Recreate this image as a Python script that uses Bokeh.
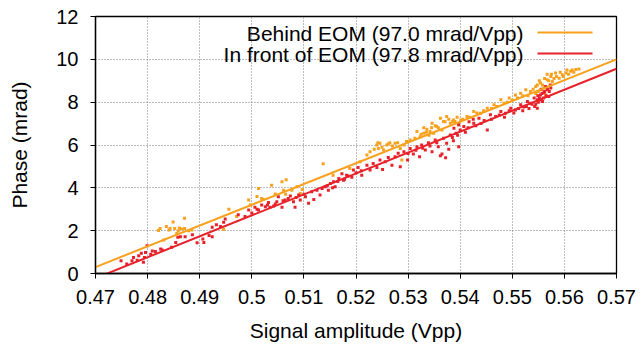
from bokeh.plotting import figure
from bokeh.models import Label, Arrow, FixedTicker, Range1d
from bokeh.embed import file_html
from bokeh.resources import INLINE
import numpy as np

# ---- data ----
behind_x = [0.4821, 0.4824, 0.4831, 0.4836, 0.4841, 0.4843, 0.4849, 0.4852, 0.4856, 0.4859,
            0.4861, 0.4865, 0.4871, 0.4871, 0.4879, 0.4885, 0.4946, 0.4956, 0.4971, 0.4994,
            0.4997, 0.5010, 0.5013, 0.5019, 0.5022, 0.5038, 0.5045, 0.5058, 0.5066, 0.5061,
            0.5065, 0.5077, 0.5087, 0.5097, 0.5137, 0.5093, 0.5156, 0.5188, 0.5208, 0.5221,
            0.5227, 0.5240, 0.5243, 0.5246, 0.5253, 0.5259, 0.5265, 0.5275, 0.5285, 0.5288,
            0.5297, 0.5304, 0.5313, 0.5317, 0.5323, 0.5330, 0.5336, 0.5342, 0.5346, 0.5349,
            0.5355, 0.5362, 0.5365, 0.5371, 0.5374, 0.5381, 0.5387, 0.5394, 0.5397, 0.5385,
            0.5401, 0.5413, 0.5426, 0.5439, 0.5452, 0.5465, 0.5478, 0.5484, 0.5494, 0.5506,
            0.5516, 0.5526, 0.5535, 0.5545, 0.5554, 0.5561, 0.5567, 0.5574, 0.5577, 0.5583,
            0.5590, 0.5596, 0.5603, 0.5612, 0.5622, 0.5628, 0.5567, 0.5554, 0.5564,
            0.5540, 0.5548, 0.5552, 0.5558, 0.5562, 0.5570, 0.5575, 0.5580, 0.5585, 0.5592,
            0.5598, 0.5605, 0.5608, 0.5615, 0.5618, 0.5550, 0.5545, 0.5530, 0.5520, 0.5510,
            0.5500, 0.5490, 0.5470, 0.5460, 0.5445, 0.5432, 0.5418, 0.5405, 0.5325, 0.5335,
            0.5345, 0.5352, 0.5358, 0.5368, 0.5378, 0.5390, 0.5330, 0.5340, 0.5242, 0.5250,
            0.5262, 0.5270, 0.5280, 0.5292, 0.5235]
behind_y = [2.01, 2.10, 1.56, 2.20, 2.03, 2.10, 2.40, 2.10, 1.87, 2.00,
            2.13, 2.08, 2.58, 2.10, 2.00, 2.03, 2.05, 3.00, 2.66, 3.43,
            3.20, 3.60, 3.97, 3.50, 3.46, 4.12, 3.71, 4.28, 4.38, 3.89,
            3.70, 3.89, 4.05, 3.92, 5.12, 3.74, 4.59, 4.90, 5.22, 5.53,
            5.69, 6.00, 5.84, 6.08, 5.77, 6.00, 6.11, 6.08, 5.84, 5.30,
            6.16, 6.23, 6.31, 6.63, 6.39, 6.55, 6.73, 6.63, 7.02, 6.55,
            6.86, 7.25, 6.70, 7.09, 7.33, 7.02, 7.17, 7.30, 6.94, 7.09,
            7.17, 7.33, 7.56, 7.48, 7.72, 7.88, 8.11, 7.95, 8.19, 8.34,
            8.42, 8.58, 8.50, 8.73, 8.89, 8.66, 9.05, 9.20, 8.97, 9.36,
            9.12, 9.28, 9.36, 9.44, 9.52, 9.55, 9.30, 8.58, 8.34,
            8.60, 8.80, 9.00, 8.80, 9.10, 9.00, 9.30, 9.10, 9.20, 9.40,
            9.20, 9.50, 9.30, 9.50, 9.40, 8.50, 8.40, 8.30, 8.30, 8.20,
            8.10, 8.00, 7.80, 7.70, 7.60, 7.50, 7.30, 7.20, 6.50, 6.60,
            6.80, 6.90, 6.80, 7.10, 7.20, 7.10, 6.80, 6.45, 6.10, 5.90,
            6.05, 5.95, 6.10, 6.00, 5.80]

front_x = [0.4749, 0.4760, 0.4770, 0.4773, 0.4780, 0.4783, 0.4788, 0.4792, 0.4794, 0.4796,
           0.4799, 0.4806, 0.4809, 0.4815, 0.4825, 0.4828, 0.4846, 0.4854, 0.4858, 0.4863,
           0.4872, 0.4886, 0.4895, 0.4906, 0.4908, 0.4918, 0.4924, 0.4924, 0.4932, 0.4940,
           0.4946, 0.4949, 0.4974, 0.4987, 0.4994, 0.5000, 0.5006, 0.5013, 0.5019, 0.5026,
           0.5032, 0.5035, 0.5042, 0.5048, 0.5051, 0.5058, 0.5064, 0.5074, 0.5080, 0.5083,
           0.5090, 0.5093, 0.5103, 0.5109, 0.5115, 0.5119, 0.5125, 0.5131, 0.5135, 0.5141,
           0.5147, 0.5151, 0.5157, 0.5160, 0.5167, 0.5176, 0.5173, 0.5182, 0.5195, 0.5204,
           0.5211, 0.5221, 0.5227, 0.5233, 0.5240, 0.5246, 0.5251, 0.5256, 0.5262, 0.5269,
           0.5275, 0.5281, 0.5285, 0.5292, 0.5299, 0.5304, 0.5310, 0.5317, 0.5322, 0.5326,
           0.5333, 0.5339, 0.5346, 0.5352, 0.5358, 0.5365, 0.5368, 0.5374, 0.5381, 0.5387,
           0.5392, 0.5397, 0.5388, 0.5397, 0.5407, 0.5417, 0.5426, 0.5436, 0.5446, 0.5452,
           0.5458, 0.5468, 0.5478, 0.5487, 0.5497, 0.5506, 0.5516, 0.5522, 0.5529, 0.5535,
           0.5542, 0.5548, 0.5554, 0.5561, 0.5567, 0.5570, 0.5574, 0.5564, 0.5558, 0.5548,
           0.5545, 0.5550, 0.5552, 0.5555, 0.5557, 0.5560, 0.5562, 0.5565, 0.5568, 0.5571,
           0.5573, 0.5556, 0.5549, 0.5543, 0.5538, 0.5532, 0.5527, 0.5520, 0.5512, 0.5503,
           0.5494, 0.5485, 0.5475, 0.5460, 0.5440, 0.5430, 0.5415, 0.5400, 0.5410, 0.5425,
           0.5300, 0.5315, 0.5328, 0.5342, 0.5355, 0.5362, 0.5372, 0.5385, 0.5395, 0.5378,
           0.5165, 0.5178, 0.5185, 0.5192, 0.5200, 0.5210, 0.5145, 0.5155,
           0.5010, 0.5030, 0.5045, 0.5060, 0.5070, 0.5085, 0.5100]
front_y = [0.59, 0.44, 0.60, 0.75, 0.62, 0.83, 0.94, 0.52, 0.75, 0.98,
           1.30, 0.90, 1.05, 1.03, 1.14, 1.10, 1.22, 1.45, 1.69, 1.72,
           1.72, 1.81, 1.44, 1.61, 1.45, 1.77, 2.16, 1.72, 2.28, 2.19,
           2.39, 2.54, 2.74, 2.66, 2.97, 2.82, 3.09, 2.97, 3.20, 3.12,
           3.31, 3.09, 3.15, 3.35, 3.58, 3.09, 3.43, 3.62, 3.35, 3.09,
           3.66, 3.43, 3.58, 3.28, 3.82, 3.46, 3.89, 3.66, 3.97, 4.05,
           3.89, 4.20, 4.28, 4.05, 4.43, 4.35, 4.66, 4.59, 4.83, 4.95,
           4.59, 5.06, 4.83, 5.14, 4.95, 5.30, 4.86, 5.22, 5.42, 5.06,
           5.45, 5.61, 4.98, 5.69, 5.30, 5.84, 5.58, 5.92, 5.45, 6.00,
           5.77, 6.11, 5.69, 6.23, 5.92, 5.58, 6.31, 6.08, 6.47, 6.20,
           6.55, 5.92, 6.78, 6.94, 6.86, 7.09, 7.02, 7.25, 7.14, 6.70,
           7.41, 7.33, 7.56, 7.48, 7.72, 7.64, 7.88, 7.77, 8.03, 7.95,
           8.19, 8.11, 8.34, 8.45, 8.58, 8.27, 8.66, 8.73, 8.03, 7.72,
           7.90, 8.00, 8.20, 8.10, 8.40, 8.20, 8.50, 8.30, 8.60, 8.50,
           8.80, 8.60, 8.30, 7.80, 7.90, 7.70, 7.80, 7.60, 7.70, 7.50,
           7.60, 7.30, 7.40, 7.20, 7.00, 6.90, 6.80, 6.70, 6.60, 7.20,
           5.60, 5.75, 5.85, 5.95, 6.10, 5.50, 5.40, 6.35, 6.45, 5.80,
           4.30, 4.40, 4.55, 4.50, 4.70, 4.80, 4.10, 4.00,
           3.00, 3.20, 3.25, 3.40, 3.50, 3.55, 3.70]

# linear fits: slope in mrad/Vpp, fitted value at x = 0.47
fit_slopes = [97.0, 97.8]
fit_at_047 = [0.30, -0.22]
fit_labels = ["Behind EOM (97.0 mrad/Vpp)", "In front of EOM (97.8 mrad/Vpp)"]
x_ticks = [0.47, 0.48, 0.49, 0.50, 0.51, 0.52, 0.53, 0.54, 0.55, 0.56, 0.57]
y_ticks = [0, 2, 4, 6, 8, 10, 12]

ORANGE = "#f7a11e"
RED = "#e8222b"
FONT = "Liberation Sans"

p = figure(width=641, height=347, output_backend="svg", toolbar_location=None,
           x_range=Range1d(0.47, 0.57), y_range=Range1d(0, 12),
           min_border_left=95, min_border_right=25, min_border_top=16, min_border_bottom=74)
p.background_fill_color = "white"
p.border_fill_color = "white"
p.outline_line_color = "black"
p.outline_line_width = 1.3

for ax in (p.xaxis, p.yaxis):
    ax.axis_line_color = "black"
    ax.axis_line_width = 1.3
    ax.major_tick_line_color = "black"
    ax.major_tick_out = 5
    ax.major_tick_in = 0
    ax.minor_tick_out = 0
    ax.minor_tick_in = 0
    ax.major_label_text_font = FONT
    ax.major_label_text_font_size = "20px"
    ax.major_label_text_color = "black"
    ax.axis_label_text_font = FONT
    ax.axis_label_text_font_size = "21px"
    ax.axis_label_text_font_style = "normal"
    ax.axis_label_text_color = "black"

p.xaxis.ticker = FixedTicker(ticks=x_ticks)
p.yaxis.ticker = FixedTicker(ticks=y_ticks)
p.xaxis.major_label_overrides = {t: ("0.5" if abs(t - 0.5) < 1e-9 else f"{t:g}") for t in x_ticks}
p.xaxis.axis_label = "Signal amplitude (Vpp)"
p.yaxis.axis_label = "Phase (mrad)"
p.xaxis.major_label_standoff = 11
p.yaxis.major_label_standoff = 12
p.xaxis.axis_label_standoff = 12
p.yaxis.axis_label_standoff = 22

for g in (p.xgrid, p.ygrid):
    g.grid_line_color = "#7a7a7a"
    g.grid_line_dash = "1 2"
    g.grid_line_width = 1

# scatter
p.scatter(behind_x, behind_y, marker="square", size=3, color=ORANGE, line_color=None)
p.scatter(front_x, front_y, marker="square", size=3, color=RED, line_color=None)

# fit lines
xs = np.array([0.47, 0.57])
for slope, y0, col in zip(fit_slopes, fit_at_047, [ORANGE, RED]):
    p.line(xs, y0 + slope * (xs - 0.47), line_color=col, line_width=2)

# legend (gnuplot style: text right-aligned, sample line on the right)
for i, (lab, col) in enumerate(zip(fit_labels, [ORANGE, RED])):
    yy = 240 - 21 * i
    p.add_layout(Label(x=428, y=yy, x_units="screen", y_units="screen", text=lab,
                       text_align="right", text_baseline="middle", text_font=FONT,
                       text_font_size="21px", text_color="black"))
    p.add_layout(Arrow(end=None, x_start=442, x_end=497, y_start=yy + 1, y_end=yy + 1,
                       start_units="screen", end_units="screen",
                       line_color=col, line_width=2))

# thin black rule along the very top edge of the image
p.add_layout(Arrow(end=None, x_start=-95, x_end=546, y_start=272.5, y_end=272.5,
                   start_units="screen", end_units="screen",
                   line_color="black", line_width=1.5))

open("out.html", "w").write(file_html(p, INLINE))
